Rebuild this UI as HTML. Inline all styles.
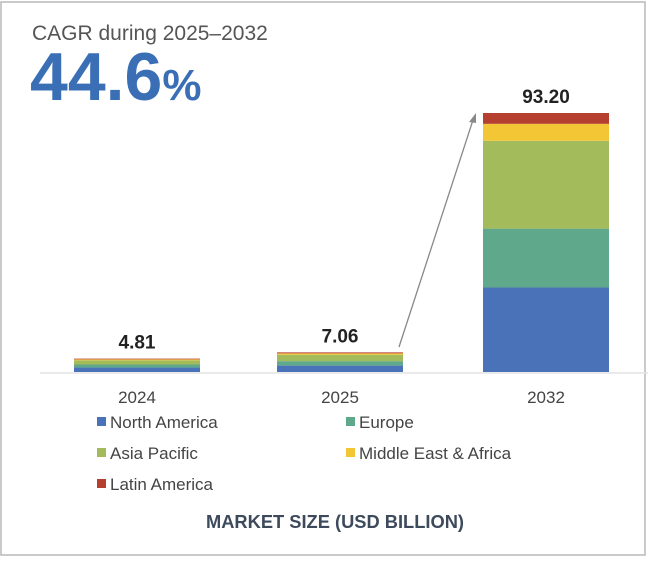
<!DOCTYPE html>
<html><head><meta charset="utf-8"><style>
html,body{margin:0;padding:0;background:#fff}
body{width:648px;height:557px;overflow:hidden;font-family:"Liberation Sans",sans-serif}
</style></head><body>
<svg width="648" height="557" viewBox="0 0 648 557">
<rect x="1" y="2" width="644" height="553" fill="#fff" stroke="#b8b8b8" stroke-width="1.5"/>
<text x="32" y="40" font-size="21" fill="#555">CAGR during 2025–2032</text>
<text x="30" y="100" font-size="68" font-weight="bold" fill="#3a6fb5">44.6<tspan font-size="44">%</tspan></text>
<line x1="40" y1="373" x2="648" y2="373" stroke="#e4e4e4" stroke-width="1.5"/>
<g id="bars"></g>
<line x1="399" y1="347" x2="473" y2="120" stroke="#888" stroke-width="1.3"/>
<polygon points="476,113 469,122 476,123" fill="#888"/>
<g id="legend"></g>
<text x="335" y="528" font-size="18" font-weight="bold" fill="#3d4a5c" text-anchor="middle" textLength="258" lengthAdjust="spacingAndGlyphs">MARKET SIZE (USD BILLION)</text>
</svg>
<script>
const categories = ["2024", "2025", "2032"];
const totals = ["4.81", "7.06", "93.20"];
const seriesNames = ["North America", "Europe", "Asia Pacific", "Middle East & Africa", "Latin America"];
const northAmerica = [1.6, 2.3, 30.4];
const europe = [1.1, 1.6, 21.2];
const asiaPacific = [1.5, 2.3, 31.6];
const middleEast = [0.35, 0.5, 6.1];
const latinAmerica = [0.26, 0.36, 3.9];
const series = [northAmerica, europe, asiaPacific, middleEast, latinAmerica];
const colors = ["#4a72b8", "#5fa88c", "#a3bb5a", "#f3c636", "#b5402f"];
const NS = "http://www.w3.org/2000/svg";
const baseY = 372, pxPerUnit = 259 / 93.2;
const barCenters = [137, 340, 546], barW = 126;
function xPos(i){ return barCenters[i]; }
function yScale(v){ return v * pxPerUnit; }
const bars = document.getElementById("bars");
categories.forEach((c, i) => {
  let cum = 0;
  series.forEach((s, k) => {
    const h = yScale(s[i]);
    const r = document.createElementNS(NS, "rect");
    r.setAttribute("x", xPos(i) - barW / 2);
    r.setAttribute("y", baseY - yScale(cum) - h);
    r.setAttribute("width", barW);
    r.setAttribute("height", h);
    r.setAttribute("fill", colors[k]);
    
    
    bars.appendChild(r);
    cum += s[i];
  });
  const t = document.createElementNS(NS, "text");
  t.setAttribute("x", xPos(i));
  t.setAttribute("y", baseY - yScale(cum) - 10);
  t.setAttribute("text-anchor", "middle");
  t.setAttribute("font-size", "19");
  t.setAttribute("font-weight", "bold");
  t.setAttribute("fill", "#222");
  t.textContent = totals[i];
  
  
  bars.appendChild(t);
  const xl = document.createElementNS(NS, "text");
  xl.setAttribute("x", xPos(i));
  xl.setAttribute("y", 403);
  xl.setAttribute("text-anchor", "middle");
  xl.setAttribute("font-size", "17");
  xl.setAttribute("fill", "#444");
  xl.textContent = c;
  
  
  bars.appendChild(xl);
});
const legend = document.getElementById("legend");
const legPos = [[97,422],[346,422],[97,453],[346,453],[97,484]];
seriesNames.forEach((n, k) => {
  const [lx, ly] = legPos[k];
  const sq = document.createElementNS(NS, "rect");
  sq.setAttribute("x", lx); sq.setAttribute("y", ly - 5);
  sq.setAttribute("width", 9); sq.setAttribute("height", 9);
  sq.setAttribute("fill", colors[k]);
  
  
  legend.appendChild(sq);
  const t = document.createElementNS(NS, "text");
  t.setAttribute("x", lx + 13); t.setAttribute("y", ly + 6);
  t.setAttribute("font-size", "17"); t.setAttribute("fill", "#444");
  t.textContent = n;
  
  
  legend.appendChild(t);
});
</script>
</body></html>
